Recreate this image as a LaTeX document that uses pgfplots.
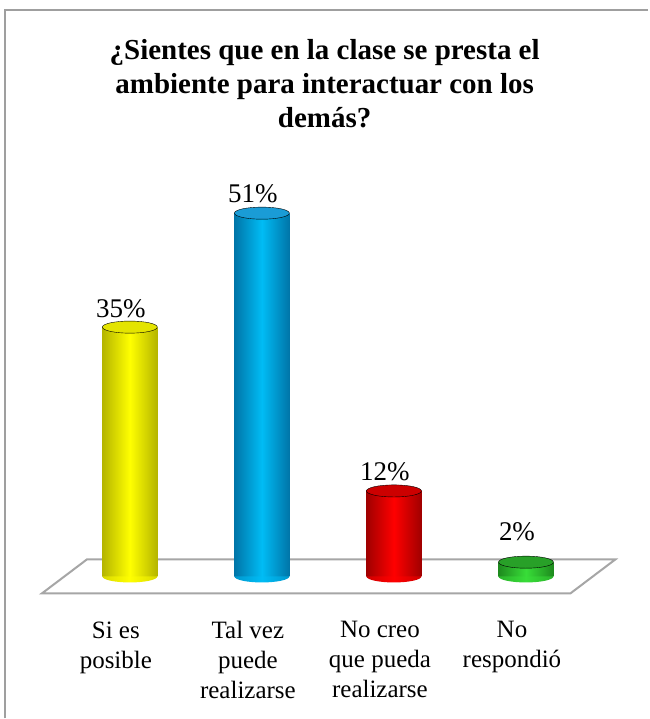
\documentclass[border=0pt]{standalone}
\usepackage{pgfplots}
\pgfplotsset{compat=1.18}
\usepackage{fontspec}
\setmainfont{Liberation Serif}
\definecolor{ydark}{HTML}{B5B500}\definecolor{ymid}{HTML}{FFFF00}\definecolor{ytop}{HTML}{E4E400}
\definecolor{bdark}{HTML}{0075A8}\definecolor{bmid}{HTML}{00BCF5}\definecolor{btop}{HTML}{1A9CD6}
\definecolor{rdark}{HTML}{A00000}\definecolor{rmid}{HTML}{FF0000}\definecolor{rtop}{HTML}{CC0000}
\definecolor{gdark}{HTML}{1E8A1E}\definecolor{gmid}{HTML}{38DD38}\definecolor{gtop}{HTML}{28A028}
\pgfdeclarehorizontalshading{yshade}{100bp}{color(0bp)=(ydark); color(50bp)=(ymid); color(100bp)=(ydark)}
\pgfdeclarehorizontalshading{bshade}{100bp}{color(0bp)=(bdark); color(50bp)=(bmid); color(100bp)=(bdark)}
\pgfdeclarehorizontalshading{rshade}{100bp}{color(0bp)=(rdark); color(50bp)=(rmid); color(100bp)=(rdark)}
\pgfdeclarehorizontalshading{gshade}{100bp}{color(0bp)=(gdark); color(50bp)=(gmid); color(100bp)=(gdark)}
\newcommand{\mkbottommark}[2]{\pgfdeclareplotmark{#1}{%
  \pgfpathmoveto{\pgfqpoint{\pgfplotmarksize}{0pt}}%
  \pgfpatharc{0}{-180}{\pgfplotmarksize}%
  \pgfpathclose
  \pgfshadepath{#2}{0}%
  \pgfusepath{discard}}}
\mkbottommark{botY}{yshade}\mkbottommark{botB}{bshade}\mkbottommark{botR}{rshade}\mkbottommark{botG}{gshade}
\newcommand{\cylinder}[7]{%
  \addplot[only marks, mark=#7, mark size=27.5pt, mark options={yscale=0.22}] coordinates {(#1,0)};
  \addplot[ybar, bar width=55pt, bar shift=0pt, draw=none, left color=#3, right color=#3, middle color=#4] coordinates {(#1,#2)};
  \addplot[only marks, mark=*, mark size=27.5pt, mark options={draw=none, yscale=0.22, fill=#5},
    nodes near coords={\pgfmathprintnumber[assume math mode=true]{\pgfplotspointmeta}\%},
    nodes near coords style={anchor=south, inner sep=0pt, xshift=-9pt, yshift=#6, text=black, font=\fontsize{27}{30}\selectfont}] coordinates {(#1,#2)};
}
\begin{document}
\begin{tikzpicture}
\fill[white] (0,0) rectangle (649pt,-719pt);
\draw[gray!75, line width=1.5pt] (5pt,-719pt) -- (5pt,-10pt) -- (649pt,-10pt);
\node[align=center, font=\fontsize{29}{34}\selectfont\bfseries] at (325pt,-84pt)
  {¿Sientes que en la clase se presta el\\ambiente para interactuar con los\\demás?};
\draw[gray!70, line width=2pt] (42pt,-594pt) -- (87pt,-560pt) -- (616pt,-560pt) -- (571pt,-594pt) -- cycle;
\begin{axis}[
  at={(63.9pt,-577pt)}, anchor=south west,
  scale only axis, width=528.7pt, height=427.8pt,
  xmin=-0.5, xmax=3.5, ymin=0, ymax=60,
  clip=false,
  axis line style={draw=none},
  ytick=\empty,
  xtick={0,1,2,3},
  xticklabels={{Si es\\posible},{Tal vez\\puede\\realizarse},{No creo\\que pueda\\realizarse},{No\\respondió}},
  major tick length=0pt,
  xticklabel style={align=center, anchor=north, inner sep=0pt, xshift=-14pt, yshift=-45pt, font=\fontsize{25}{30}\selectfont},
]
\cylinder{0}{35}{ydark}{ymid}{ytop}{9pt}{botY}
\cylinder{1}{51}{bdark}{bmid}{btop}{10pt}{botB}
\cylinder{2}{12}{rdark}{rmid}{rtop}{10pt}{botR}
\cylinder{3}{2}{gdark}{gmid}{gtop}{21pt}{botG}
\end{axis}
\end{tikzpicture}
\end{document}
